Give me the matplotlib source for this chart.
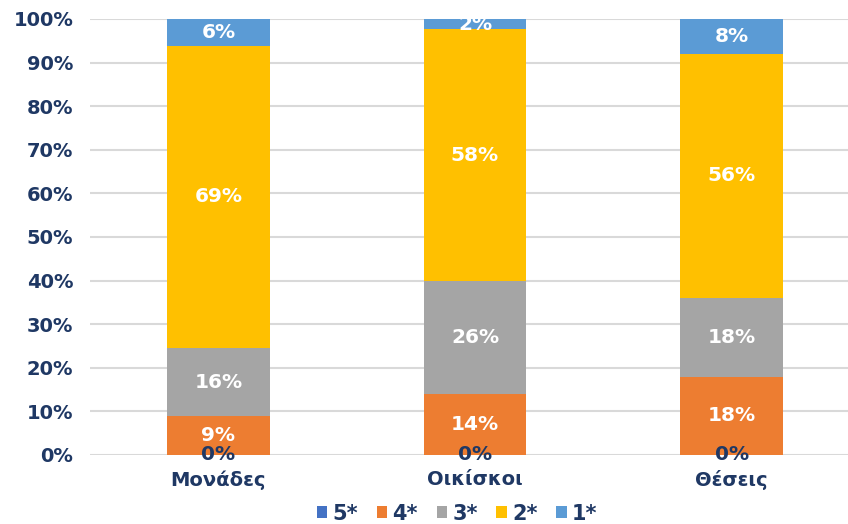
import matplotlib
matplotlib.use("Agg")
import matplotlib.pyplot as plt
import numpy as np

categories = ["Μονάδες", "Οικίσκοι", "Θέσεις"]
series_names = ["5*", "4*", "3*", "2*", "1*"]
s5 = [0.0, 0.0, 0.0]
s4 = [8.9, 14.0, 18.0]
s3 = [15.6, 26.0, 18.0]
s2 = [69.4, 57.6, 56.0]
s1 = [6.1, 2.4, 8.0]
yticks = [0, 10, 20, 30, 40, 50, 60, 70, 80, 90, 100]

colors = ["#4472C4", "#ED7D31", "#A5A5A5", "#FFC000", "#5B9BD5"]
navy = "#1F3864"

plt.rcParams['font.family'] = ['DejaVu Sans']
plt.rcParams['font.weight'] = 'bold'

fig = plt.figure(figsize=(8.48, 5.24), dpi=100)
ax = fig.add_axes([90/848, 1-455/524, (860-90)/848, (455-19)/524])

x = np.arange(len(categories))
bottom = np.zeros(len(categories))
handles = []
for name, vals, col in zip(series_names, [s5, s4, s3, s2, s1], colors):
    vals = np.array(vals)
    bars = ax.bar(x, vals, 0.4, bottom=bottom, color=col, label=name, zorder=3)
    handles.append(bars)
    tc = navy if name == "5*" else "white"
    ax.bar_label(bars, labels=[f"{v:.0f}%" for v in vals], label_type='center',
                 color=tc, fontsize=14.5, fontweight='bold', zorder=4)
    bottom += vals

ax.set_xlim(-0.5, 2.5)
ax.set_ylim(0, 100)
ax.set_yticks(yticks)
ax.set_yticklabels([f"{t}%" for t in yticks], color=navy, fontsize=14, fontweight='bold')
ax.set_xticks(x)
ax.set_xticklabels(categories, color=navy, fontsize=14, fontweight='bold')
ax.tick_params(axis='both', length=0)
ax.tick_params(axis='x', pad=11)
ax.tick_params(axis='y', pad=12)
ax.grid(axis='y', color='#D9D9D9', linewidth=1.5, zorder=0)
for s in ax.spines.values():
    s.set_visible(False)

leg = fig.legend(handles=handles, labels=series_names, loc='center', bbox_to_anchor=(0.539, 0.02),
                 ncol=5, frameon=False, handlelength=0.5, handleheight=0.5,
                 handletextpad=0.25, columnspacing=0.9, labelcolor=navy,
                 prop={'weight': 'bold', 'size': 15})

fig.savefig("out.png", dpi=100)
